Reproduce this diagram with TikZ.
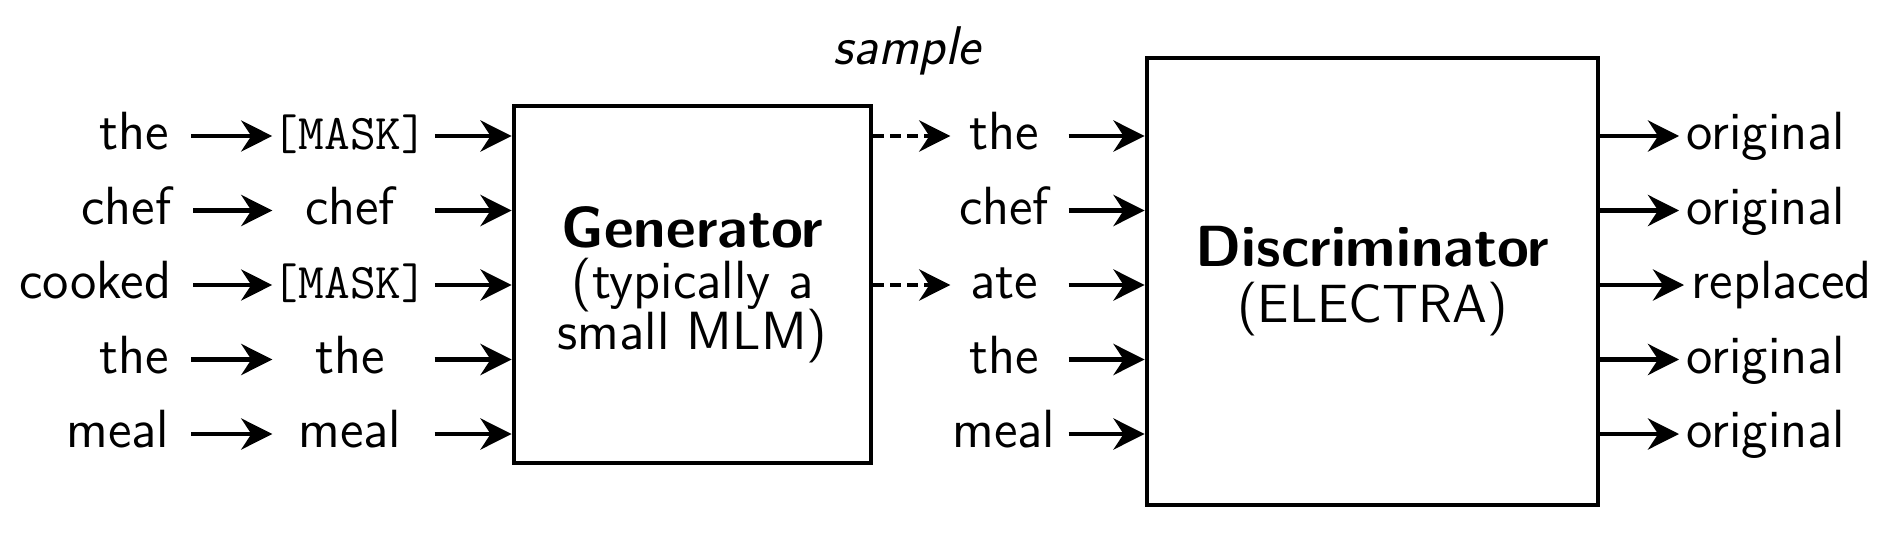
\documentclass[tikz,border=0pt]{standalone}
\usetikzlibrary{arrows.meta}
\newcommand{\tightlines}{\lineskiplimit=-100pt\relax}
\tikzset{
  word/.style={inner sep=0pt, text height=0.37cm, text depth=0.10cm},
  maskword/.style={word, minimum width=1.54cm},
  sampword/.style={word, minimum width=1.06cm},
  model/.style={draw, line width=1.4pt, inner sep=0pt, align=center,
    font=\sffamily\fontsize{15.3}{14.3}\selectfont\tightlines},
  into/.style={-{Stealth[length=0.31cm,width=0.31cm]}, line width=1.35pt},
  sampled/.style={into, dash pattern=on 0.11cm off 0.06cm}
}
\newcommand{\masktok}{{\fontsize{14.2}{13}\ttfamily[MASK]}}
\newcommand{\modelname}[1]{{\fontsize{16.5}{16}\selectfont\bfseries #1}}
\begin{document}
\begin{tikzpicture}[font=\sffamily\fontsize{15.3}{13.5}\selectfont]
                \useasboundingbox (0,0) rectangle (18.92,-5.40);

                \node[word, anchor=east] (w1) at (1.70,-1.36) {the};
                \node[word, anchor=east] (w2) at (1.72,-2.105) {chef};
                \node[word, anchor=east] (w3) at (1.72,-2.85) {cooked};
                \node[word, anchor=east] (w4) at (1.70,-3.595) {the};
                \node[word, anchor=east] (w5) at (1.70,-4.34) {meal};

                \node[maskword] (m1) at (3.50,-1.36) {\masktok};
                \node[maskword] (m2) at (3.50,-2.105) {chef};
                \node[maskword] (m3) at (3.50,-2.85) {\masktok};
                \node[maskword] (m4) at (3.50,-3.595) {the};
                \node[maskword] (m5) at (3.50,-4.34) {meal};

                \node[model, minimum width=3.57cm, minimum height=3.57cm] (gen) at (6.925,-2.845)
                    {\modelname{Generator}\\[0.3pt](typically a\\small MLM)};

                \node[font=\sffamily\itshape\fontsize{15.5}{13.5}\selectfont] (smp) at (9.07,-0.51) {sample};

                \node[sampword] (s1) at (10.04,-1.36) {the};
                \node[sampword] (s2) at (10.04,-2.105) {chef};
                \node[sampword] (s3) at (10.04,-2.85) {ate};
                \node[sampword] (s4) at (10.04,-3.595) {the};
                \node[sampword] (s5) at (10.04,-4.34) {meal};

                \node[model, minimum width=4.51cm, minimum height=4.47cm] (disc) at (13.725,-2.815)
                    {\modelname{Discriminator}\\[1.6pt](ELECTRA)};

                \node[word, anchor=west] (o1) at (16.86,-1.36) {original};
                \node[word, anchor=west] (o2) at (16.86,-2.105) {original};
                \node[word, anchor=west] (o3) at (16.91,-2.85) {replaced};
                \node[word, anchor=west] (o4) at (16.86,-3.595) {original};
                \node[word, anchor=west] (o5) at (16.86,-4.34) {original};

                \foreach \i in {1,...,5} {
                    \draw[into, shorten <=0.21cm] (w\i.east) -- (m\i.west);
                    \draw[into, shorten <=0.07cm] (m\i.east) -- (m\i.east -| gen.west);
                    \draw[into, shorten <=0.11cm] (s\i.east) -- (s\i.east -| disc.west);
                    \draw[into, shorten >=0.07cm] (disc.east |- o\i.west) -- (o\i.west);
                }

                \draw[sampled] (gen.east |- s1.west) -- (s1.west);
                \draw[sampled] (gen.east |- s3.west) -- (s3.west);
            \end{tikzpicture}
\end{document}
